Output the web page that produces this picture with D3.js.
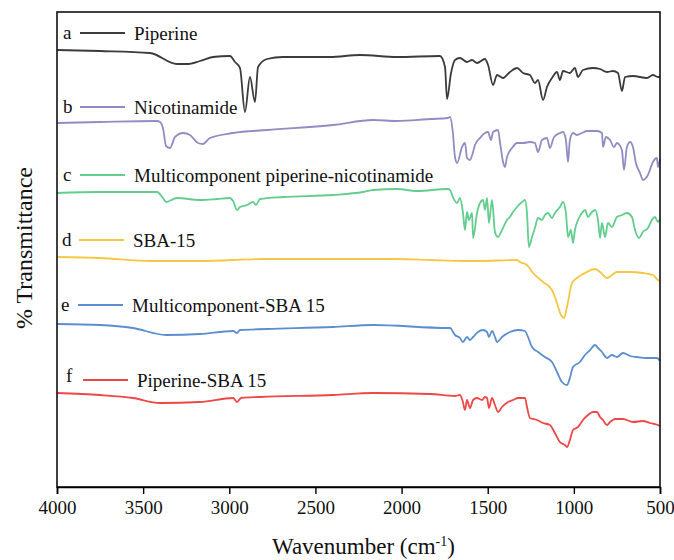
<!DOCTYPE html>
<html>
<head>
<meta charset="utf-8">
<script src="https://cdn.jsdelivr.net/npm/d3@7"></script>
<style>
  body { margin: 0; background: #fff; }
  text { font-family: "Liberation Serif", "Times New Roman", serif; fill: #111; }
</style>
</head>
<body>
<div id="chart"></div>
<script>
// FTIR spectra, stacked (arbitrary transmittance units), [wavenumber, T]
var piperine = [[4000,439],[3750,438],[3460,436],[3304,425],[3245,425],[3170,428],[3095,432],[2996,433],[2967,427],[2938,421],[2909,377],[2880,412],[2851,387],[2833,422],[2781,430],[2688,432],[2416,432],[2241,434],[2027,432],[1777,433],[1748,422],[1736,390],[1713,416],[1690,429],[1661,431],[1620,427],[1591,429],[1562,426],[1516,430],[1498,424],[1469,404],[1446,414],[1411,411],[1371,417],[1330,421],[1295,416],[1255,414],[1226,406],[1208,409],[1179,389],[1156,402],[1127,411],[1098,417],[1081,409],[1063,418],[1023,416],[994,421],[976,412],[947,419],[889,421],[848,420],[808,417],[773,418],[744,416],[721,398],[703,412],[657,413],[576,411],[541,414],[512,412],[500,412]];

var nicotinamide = [[4000,366],[3750,367],[3420,368],[3402,367],[3385,361],[3367,343],[3344,341],[3315,352],[3269,356],[3228,354],[3182,346],[3153,345],[3112,351],[2978,356],[2781,359],[2398,364],[2166,369],[2027,368],[1835,370],[1731,371],[1719,372],[1702,356],[1690,332],[1678,326],[1649,342],[1632,346],[1620,331],[1603,329],[1585,337],[1574,344],[1545,351],[1516,356],[1498,357],[1481,349],[1469,357],[1440,359],[1429,347],[1411,327],[1400,322],[1388,332],[1359,341],[1330,346],[1295,346],[1255,347],[1226,346],[1208,337],[1185,349],[1156,351],[1139,341],[1115,352],[1081,356],[1063,357],[1046,349],[1034,327],[1023,349],[1005,356],[982,354],[953,356],[924,358],[866,358],[837,356],[831,342],[814,352],[790,349],[767,342],[750,346],[721,339],[709,319],[692,342],[674,347],[657,342],[640,326],[616,316],[599,309],[570,314],[541,327],[518,331],[512,322],[500,330]];

var multicomponent = [[4000,296],[3750,297],[3420,297],[3385,291],[3367,287],[3304,291],[3170,289],[3071,290],[2996,291],[2978,288],[2955,279],[2938,282],[2897,284],[2862,287],[2845,284],[2822,290],[2688,292],[2398,294],[2224,297],[2166,299],[2027,300],[1911,298],[1731,300],[1719,299],[1702,292],[1678,286],[1661,291],[1644,277],[1632,259],[1620,277],[1609,269],[1591,276],[1585,251],[1562,276],[1545,286],[1527,289],[1516,279],[1504,291],[1493,266],[1475,289],[1458,257],[1440,252],[1417,259],[1388,269],[1371,272],[1353,277],[1330,282],[1301,287],[1284,289],[1272,276],[1261,242],[1243,252],[1226,261],[1208,271],[1185,269],[1168,274],[1150,276],[1127,271],[1110,276],[1081,282],[1063,287],[1046,276],[1034,252],[1017,259],[1005,246],[994,259],[976,269],[953,276],[935,279],[918,272],[895,277],[877,279],[860,269],[848,251],[837,266],[819,252],[802,266],[779,262],[750,272],[721,274],[692,276],[663,272],[645,259],[622,251],[599,257],[570,261],[547,269],[529,272],[512,267],[500,270]];

var sba15 = [[4000,232],[3750,231],[3460,228],[3170,228],[2781,230],[2398,230],[2027,230],[1835,229],[1644,228],[1562,228],[1330,229],[1313,227],[1272,224],[1237,216],[1179,207],[1127,199],[1098,186],[1075,174],[1057,171],[1040,182],[1011,206],[982,211],[924,217],[877,220],[848,217],[808,211],[779,214],[750,217],[674,217],[599,216],[541,214],[512,209],[500,208]];

var multiSba = [[4000,165],[3750,164],[3559,161],[3367,154],[3170,155],[2978,158],[2955,156],[2938,159],[2781,160],[2398,162],[2166,164],[1731,161],[1719,161],[1690,154],[1661,151],[1644,147],[1620,152],[1603,149],[1585,152],[1557,157],[1527,159],[1504,157],[1493,152],[1475,158],[1458,152],[1446,147],[1417,152],[1371,157],[1324,159],[1284,158],[1266,152],[1243,142],[1208,137],[1168,132],[1127,127],[1098,117],[1069,107],[1040,104],[1023,111],[1005,122],[965,127],[935,134],[906,139],[877,144],[860,141],[837,137],[808,131],[779,134],[750,132],[715,136],[674,133],[634,132],[576,131],[518,131],[500,128]];

var piperineSba = [[4000,96],[3750,94],[3559,91],[3402,86],[3170,87],[2978,91],[2955,87],[2932,91],[2822,92],[2398,94],[2166,96],[1835,95],[1690,93],[1661,94],[1644,87],[1632,79],[1620,89],[1603,81],[1585,89],[1562,91],[1533,89],[1516,92],[1504,91],[1493,81],[1475,91],[1458,84],[1440,77],[1417,82],[1382,87],[1353,89],[1324,91],[1284,91],[1272,82],[1255,71],[1214,69],[1179,66],[1139,64],[1110,56],[1081,47],[1052,44],[1040,42],[1023,49],[1005,59],[976,62],[947,69],[918,74],[889,77],[866,77],[848,72],[831,69],[808,64],[790,67],[761,70],[715,70],[657,67],[599,68],[558,66],[512,64],[500,63]];

var letters = ["a", "b", "c", "d", "e", "f"];
var names = ["Piperine", "Nicotinamide", "Multicomponent piperine-nicotinamide", "SBA-15", "Multicomponent-SBA 15", "Piperine-SBA 15"];
var colors = ["#3b3b3b", "#8f8dc1", "#62cd8c", "#f6c744", "#5b8ed0", "#ef4646"];
var xTicks = [4000, 3500, 3000, 2500, 2000, 1500, 1000, 500];

var series = [piperine, nicotinamide, multicomponent, sba15, multiSba, piperineSba];

const margin = { top: 12, right: 14, bottom: 73, left: 57 };
const width = 674 - margin.left - margin.right;
const height = 560 - margin.top - margin.bottom;

const svg = d3.select("#chart")
  .append("svg")
    .attr("width", 674)
    .attr("height", 560)
  .append("g")
    .attr("transform", `translate(${margin.left},${margin.top})`);

const x = d3.scaleLinear().domain([4000, 500]).range([0, width]);
const y = d3.scaleLinear().domain([2, 477]).range([height, 0]);

// spectra
const line = d3.line()
  .x(d => x(d[0]))
  .y(d => y(d[1]))
  .curve(d3.curveMonotoneX);

svg.selectAll(".spec")
  .data(series)
  .join("path")
    .attr("class", "spec")
    .attr("d", line)
    .attr("fill", "none")
    .attr("stroke", (d, i) => colors[i])
    .attr("stroke-width", 1.8)
    .attr("stroke-linejoin", "round");

// labels: letter, short line, name (layout in plot units)
const legendAt = [456, 382, 314, 249, 184, 113];
const legendDx = [0, 0, 0, -1, -2, 3];

const leg = svg.selectAll(".leg")
  .data(names)
  .join("g")
    .attr("class", "leg")
    .attr("transform", (d, i) => `translate(${6 + legendDx[i]},${y(legendAt[i])})`);

leg.append("text")
  .attr("x", 0)
  .attr("y", 6)
  .style("font-size", "19px")
  .text((d, i) => letters[i]);

leg.append("line")
  .attr("x1", 17).attr("x2", 62)
  .attr("y1", (d, i) => i === 5 ? 4 : 0)
  .attr("y2", (d, i) => i === 5 ? 4 : 0)
  .attr("stroke", (d, i) => colors[i])
  .attr("stroke-width", 1.8);

leg.append("text")
  .attr("x", 71)
  .attr("y", (d, i) => i === 5 ? 11 : 7)
  .style("font-size", "19px")
  .text(d => d);

// frame
svg.append("rect")
  .attr("width", width)
  .attr("height", height)
  .attr("fill", "none")
  .attr("stroke", "#111")
  .attr("stroke-width", 1.6);

// x axis
const xAxis = svg.append("g")
  .attr("transform", `translate(0,${height})`)
  .call(d3.axisBottom(x).tickValues(xTicks).tickSize(7).tickPadding(7).tickFormat(d3.format("d")));
xAxis.select(".domain").attr("stroke-width", 1.6);
xAxis.selectAll(".tick line").attr("stroke-width", 1.4);
xAxis.selectAll("text")
  .style("font-family", "Liberation Serif, serif")
  .style("font-size", "19px")
  .attr("fill", "#111");

// axis titles
const xt = svg.append("text")
  .attr("x", width / 2 + 5)
  .attr("y", height + 67)
  .attr("text-anchor", "middle")
  .style("font-size", "23px");
xt.append("tspan").text("Wavenumber (cm");
xt.append("tspan").attr("dy", -8).style("font-size", "14px").text("-1");
xt.append("tspan").attr("dy", 8).text(")");

svg.append("text")
  .attr("transform", `translate(${-margin.left + 32},${236}) rotate(-90)`)
  .attr("text-anchor", "middle")
  .style("font-size", "24px")
  .text("% Transmittance");
</script>
</body>
</html>
